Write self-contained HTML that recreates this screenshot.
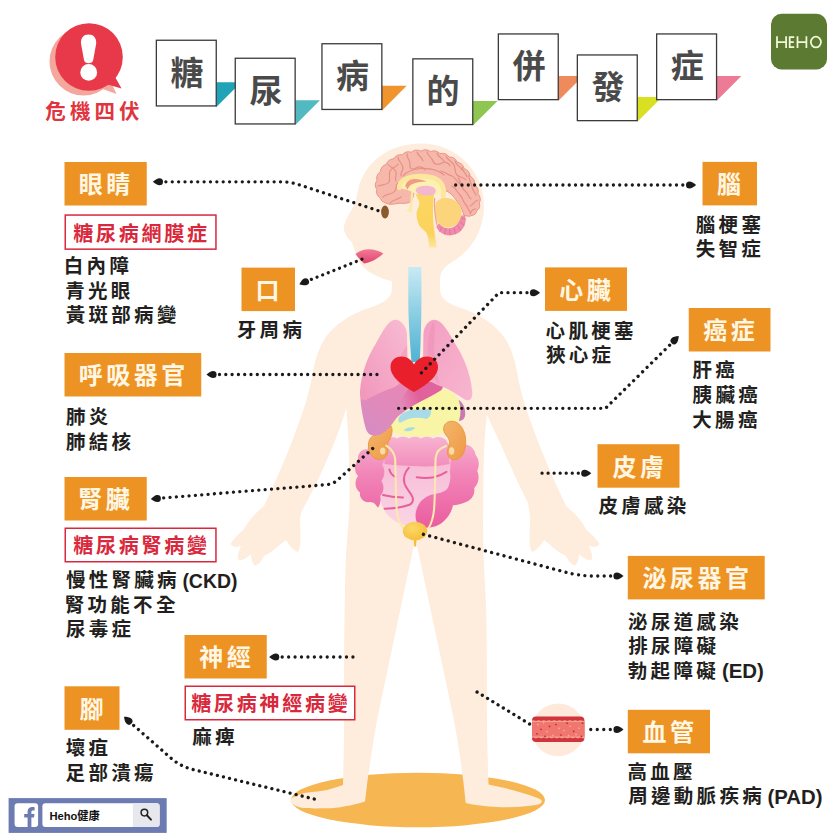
<!DOCTYPE html>
<html lang="zh-Hant"><head><meta charset="utf-8"><title>糖尿病的併發症</title>
<style>
html,body{margin:0;padding:0;background:#fff}
body{width:840px;height:840px;position:relative;overflow:hidden;font-family:"Liberation Sans",sans-serif}
svg{position:absolute;left:0;top:0;display:block}
svg text{font-family:"Liberation Sans","Noto Sans CJK TC",sans-serif;font-weight:700}
.t{position:absolute;white-space:nowrap;line-height:1.2;color:transparent;font-family:"Liberation Sans",sans-serif}
</style></head><body>
<svg width="840" height="840" viewBox="0 0 840 840">
<circle cx="83.5" cy="61.5" r="34" fill="#f4a79c"/>
<path fill="#f4a79c" d="M100,88 L116.5,94 L110,80 Z"/>
<circle cx="89" cy="57" r="33.8" fill="#e8394a"/>
<path fill="#e8394a" d="M106,84 L121.5,88.5 L114.5,76 Z"/>
<path fill="#fff" d="M88.6,34.6 C93.6,34.6 96.6,38 96.2,43.5 L93.2,60 C92.8,62.4 90.8,63.2 88.6,63.2 C86.4,63.2 84.4,62.4 84,60 L81,43.5 C80.6,38 83.6,34.6 88.6,34.6 Z"/>
<ellipse cx="88.7" cy="72.4" rx="8.4" ry="8.3" fill="#fff"/>
<path fill="#1ea4b6" d="M216.4,82.3 L241.1,82.3 L216.4,107.0 Z"/>
<path fill="#52b9c0" d="M295.3,100.3 L320.0,100.3 L295.3,125.0 Z"/>
<path fill="#f0952e" d="M382.0,85.8 L406.7,85.8 L382.0,110.5 Z"/>
<path fill="#8fc651" d="M472.9,100.9 L497.6,100.9 L472.9,125.6 Z"/>
<path fill="#ef8b5b" d="M558.4,76.0 L583.1,76.0 L558.4,100.7 Z"/>
<path fill="#d9e022" d="M637.4,97.0 L662.1,97.0 L637.4,121.7 Z"/>
<path fill="#ee7b95" d="M716.7,76.0 L741.4,76.0 L716.7,100.7 Z"/>
<rect x="156.35" y="40.25" width="59.90" height="65.70" fill="#fff" stroke="#3a3a3a" stroke-width="1.3"/>
<rect x="235.25" y="58.25" width="59.90" height="65.70" fill="#fff" stroke="#3a3a3a" stroke-width="1.3"/>
<rect x="321.95" y="43.75" width="59.90" height="65.70" fill="#fff" stroke="#3a3a3a" stroke-width="1.3"/>
<rect x="412.85" y="58.85" width="59.90" height="65.70" fill="#fff" stroke="#3a3a3a" stroke-width="1.3"/>
<rect x="498.35" y="33.95" width="59.90" height="65.70" fill="#fff" stroke="#3a3a3a" stroke-width="1.3"/>
<rect x="577.35" y="54.95" width="59.90" height="65.70" fill="#fff" stroke="#3a3a3a" stroke-width="1.3"/>
<rect x="656.65" y="33.95" width="59.90" height="65.70" fill="#fff" stroke="#3a3a3a" stroke-width="1.3"/>
<rect x="771" y="13.8" width="56" height="55.6" rx="10.5" fill="#5c7a31"/>
<g fill="none" stroke="#f1f9da" stroke-width="1.75" stroke-linecap="butt"><path d="M777,36.2 V48 M786.1,36.2 V48 M777,42 H786.1"/><path d="M789.7,36.2 V48 M789.7,37 H794.2 M789.7,42 H793.8 M789.7,47.2 H794.2"/><path d="M797.5,36.2 V48 M806.4,36.2 V48 M797.5,42 H806.4"/><ellipse cx="815.9" cy="42.1" rx="5.05" ry="5.4"/></g>
<!-- floor -->
<ellipse cx="418" cy="800" rx="127" ry="27.2" fill="#f6b652"/>
<!-- body silhouette -->
<path fill="#feecdc" d="M421,143.5
C456,143.5 484,171 484,206
C484,230 472,250 452,262
C444,267 440,272 440,280
L440,289
C440,298 447,303 458,307
C478,313 497,325 506,340
C512,350 515,361 517,372
C521,395 527,412 533,428
C540,448 551,474 566,506
C573,512 580,518 586,529
C591,534 597,539 599.5,544
C597,548 592,547 589,546
C591,551 593,556 591.5,560
C587,561 582,557 579,554
C579,558 578,563 575,565.5
C571,565 568,560 566,556
C560,553 553,548 548,543
L544,540
C541,545 537,550 532.5,552
C528,548 530,530 530,520
C530,514 529,508 528,503
C520,487 511,468 500.7,444.3
C496,434 491,424 486.8,414.3
C485,432 483.8,450 483.6,466
C483.2,490 483,510 483,530
C483.4,570 486,590 486.5,620
C487,660 487,700 487,720
C487,745 488,768 488.6,784.6
C498,786.5 518,791 531.4,795.7
C537,797.7 541.5,799 541.8,801
C542,803 540,804.4 537,804.8
C525,806.8 510,807.6 497,807
C486,806.5 474,805 465.7,803
C463,775 459,748 454,720
L417.2,546.5
L413.6,546.5
L377,720
C372,748 368,775 365,801.5
C352,805.5 338,808.2 327,808.3
C317,808.4 308,808.5 303,808
C297,807 291.5,804.5 290.6,801.5
C290,799 292,797.5 294.5,796.8
C299,794.5 303,793.3 306,792.8
C314,791.8 321,791 327,790
C333,788.5 338,786.5 343,785
C343.4,768 344,745 344,720
C343.8,690 344.2,620 345.5,565
C346.5,545 348,530 349,515
C349.5,505 349.8,495 349.6,487
C349.4,470 349,455 348.6,444
C348,430 347,418 346.4,408
C342.5,421 338,433 333.6,444.3
C328,458 322,471 316.4,483
C311,494 306,503 301.8,511
C300.6,514 300,517 300,520
C300,530 302,548 297.5,552
C293,550 289,545 286,540
L282,543
C277,548 270,553 264,556
C262,560 259,565 255,565.5
C252,563 251,558 251,554
C248,557 243,561 238.5,560
C237,556 239,551 241,546
C238,547 233,548 230.5,544
C233,539 239,534 244,529
C250,518 257,512 264,506
C279,474 290,448 297,428
C303,412 309,395 313,372
C315,361 318,350 324,340
C333,325 352,313 372,307
C383,303 392,298 392,289
L392,281
C383,279 373,275 366,269.5
C361,265 357,260 356,254
C355,250 353,246 351.5,241.5
C347,238 343,232 344,226
C346,218 352,210 355,204
C356,200 357,195 358,190
C364,163 388,143.5 421,143.5 Z"/>

<defs>
<linearGradient id="tr" x1="0" y1="0" x2="0" y2="1"><stop offset="0" stop-color="#c9eaf4"/><stop offset="0.45" stop-color="#8fd0e4"/><stop offset="1" stop-color="#4fb2d4"/></linearGradient>
<linearGradient id="lgL" x1="1" y1="0" x2="0" y2="1"><stop offset="0" stop-color="#f8bcd3"/><stop offset="1" stop-color="#f196bb"/></linearGradient>
<linearGradient id="lgR" x1="0" y1="0" x2="1" y2="1"><stop offset="0" stop-color="#f39ec1"/><stop offset="1" stop-color="#f7b6cf"/></linearGradient>
<linearGradient id="lv" x1="1" y1="0" x2="0" y2="1"><stop offset="0" stop-color="#ec86b3"/><stop offset="0.6" stop-color="#e08abb"/><stop offset="1" stop-color="#d48cc3"/></linearGradient>
<linearGradient id="col" gradientUnits="userSpaceOnUse" x1="0" y1="437" x2="0" y2="528"><stop offset="0" stop-color="#f7b3d0"/><stop offset="0.38" stop-color="#f287b9"/><stop offset="1" stop-color="#ea5c9f"/></linearGradient><linearGradient id="si" x1="0" y1="0" x2="0" y2="1"><stop offset="0" stop-color="#f7bcd6"/><stop offset="1" stop-color="#fad6e5"/></linearGradient><linearGradient id="lvb" gradientUnits="userSpaceOnUse" x1="400" y1="400" x2="440" y2="386"><stop offset="0" stop-color="#e0609b" stop-opacity="0"/><stop offset="0.45" stop-color="#e0609b"/><stop offset="1" stop-color="#e2649e"/></linearGradient>
<linearGradient id="kd" x1="0" y1="0" x2="1" y2="1"><stop offset="0" stop-color="#f4b56a"/><stop offset="1" stop-color="#ee9a45"/></linearGradient>
<radialGradient id="bl" cx="0.4" cy="0.35" r="0.7"><stop offset="0" stop-color="#fbd968"/><stop offset="1" stop-color="#f5bd38"/></radialGradient>
<linearGradient id="mo" x1="0" y1="0" x2="0" y2="1"><stop offset="0" stop-color="#f27a95"/><stop offset="1" stop-color="#e2446f"/></linearGradient>
</defs>
<!-- mouth -->
<path fill="url(#mo)" d="M355.5,254 C359,251 364,249.3 369,249.3 C374,249.3 379.5,251 383.3,253.6 C378,258.5 371,262.5 364,263.4 C361,260.5 358,257.5 355.5,254 Z"/>
<!-- eye -->
<ellipse cx="385" cy="212" rx="3.9" ry="6.4" fill="#8a5a2c"/>
<!-- trachea -->
<path fill="url(#tr)" d="M408.3,267 L421.4,267 L421.4,300 C421.4,325 420.5,345 419.8,362 L411.5,362 C410.5,345 408.3,325 408.3,300 Z"/>
<!-- stomach (pale yellow) + pancreas -->
<path fill="#f8f5a6" d="M418,400 C424,393 432,388.6 441,389 C451.6,389.6 459,396.6 461,407 C462.4,415 461,423.4 452,425.4 C447,427.4 446,432 440,434.4 C425,438 403,437 392,432 C389,428 391,422 396,418.6 C404,413.6 412,407.6 418,400 Z"/>
<!-- spleen -->
<path fill="#c97ab0" d="M458.6,399.8 C463,402.6 465.6,408.6 465.2,414.6 C464.8,419 462.2,421.2 459,420.8 C461.2,414 461,406.6 458.6,399.8 Z"/>
<!-- blue duct -->
<path fill="#a8dbe7" d="M398.5,418.5 C401,413.5 406,410.5 414,409.8 C420,409.2 426,409 430.5,409.6 C431.6,413 430.6,417 427,419 C421,417.4 415,417.2 410,418.6 C406,419.8 402.5,421.6 400,423 C398.6,422 398,420 398.5,418.5 Z"/>
<path fill="#a8dbe7" d="M403.6,430.6 C405.6,427.6 410,426.4 415.2,427.6 C413.6,430.4 408.6,432.6 403.6,430.6 Z"/>
<!-- small intestine bg -->
<path fill="url(#si)" d="M381,462 L451,462 L452,500 C447,512 436,524 420,527 C406,528 393,522 386,513 C382,507 380,500 380,496 Z"/>
<g fill="none" stroke="#e85f9c" stroke-width="2" stroke-linecap="round" stroke-linejoin="round">
<path d="M389.4,469.4 C390,473 392.5,475.5 395.5,477"/>
<path d="M408.7,467.8 C405,472 403,478 404.5,483.5 C406,489 411,492.5 412.7,497.5 C413.5,501 412,503.5 409.5,504.8 C402,507.5 392,508.5 384.6,508.8"/>
<path d="M416.7,477.2 C422,478 428,478.2 433.6,477.2 C438.5,476.2 443,474 446.5,471.8"/>
<path d="M383,495 C389,496.6 396,497.4 403,497.5"/>
</g>
<!-- large intestine -->
<path fill="url(#col)" d="M385.5,441 C388.5,436.6 394,436.4 397,438.6 C400,436 406,436 409,438.6 C412,436 418,436 421,438.6 C424,436 430,436 433,438.6 C436,436 442.5,436.4 446,440 L450,447 L449.5,464 C440,466.2 430,466.8 420,466.3 C408,465.8 396,465.6 384.5,464 L383,447 Z"/>
<path fill="url(#col)" d="M384.5,446 C379,443 371.5,444.4 368,449.4 C362,448.6 357,453.6 358,460 C354,464 354,472 358,476 C354,481 355,489 360,492.4 C359,498 364,503 370,502 C374,502 376,505 378,507.8 C380.4,504.4 381.2,500 380.2,496 C384.4,492 384.4,485 381.4,481 C385.2,476 385.2,469 382.2,465 C385.4,460 386.2,452 384.5,446 Z"/>
<path fill="url(#col)" d="M448.5,446 C452,443.4 458,442.6 463,444.6 C469.4,443.8 475,448.8 475.6,455 C479.2,459 479.7,466 477.2,471 C479.8,476 478.8,484 474.2,488 C475.2,494 472,500 466,502 C462,504 457,505.2 453,505.2 L447,490 C450,484 451,478 450,472 C451,464 450.4,455 448.5,446 Z"/>
<path fill="url(#col)" d="M453,505 C452,511 448.5,517 443.5,521.4 C437,527 427,529.4 421,526.4 C415,523.4 414.4,515 417,508 C420,500 427,495 435,494 C441,493 446,491 448,488 C452,492 454,499 453,505 Z"/>
<!-- kidneys -->
<path fill="url(#kd)" stroke="#e8963f" stroke-width="0.9" d="M391.4,426.4 C393,431 391.6,436.6 389,440.6 C386.6,444.4 388.2,448.6 387.8,452.6 C387,458 381,461 376,458.8 C370,456.4 367,448.4 369,441.2 C370.6,436 376,433.6 381,430.6 C385,428.4 388.6,426.4 391.4,426.4 Z"/>
<ellipse cx="382.7" cy="451" rx="2.7" ry="3.6" fill="#fde1b4" opacity="0.9"/>
<path fill="url(#kd)" stroke="#e8963f" stroke-width="0.9" d="M450.2,421.4 C457.6,420.2 464,427.6 465.4,437 C466.8,447 464,456.6 457.4,459.2 C452,461.2 446.8,457.2 447.4,451.6 C447.8,447 450.6,444 449.2,440 C447.8,436 443.6,434 443.6,429 C443.6,424.6 446.8,421.8 450.2,421.4 Z"/>
<ellipse cx="451.6" cy="451" rx="2.7" ry="3.8" fill="#fde1b4" opacity="0.9"/>
<!-- ureters -->
<g fill="none" stroke="#fbe8ae" stroke-width="2.1" stroke-linecap="round">
<path d="M386.4,445.6 C391,448.6 394.6,453 395.2,459.4 C395.8,478 395.6,500 397,513 C398.2,520 401,526 405,529.6"/>
<path d="M446.2,446 C440.6,447.6 436.2,451.6 435.6,458 C435,476 435.2,496 434,510 C433.2,517.6 431.4,523.6 428.6,528"/>
</g>
<!-- liver -->
<path fill="url(#lv)" d="M361,392 C366,386 376,384 386,384 L414,382 C424,382 434,381 441.5,382.6 C443.8,384.6 443.2,388.6 440.6,390.6 C432,396 422,400.5 415,404.5 C407,409.5 400,414.5 396.5,418 C393,422.5 391,426 388.5,428.5 C384,433 379,436 373.5,435.6 C369,435.2 366.5,431.5 365.5,427.5 C363.5,420 361,408 360.6,400 C360.5,397 360.5,394 361,392 Z"/>
<path fill="url(#lvb)" d="M406,386 L414,382 C424,382 434,381 441.5,382.6 C443.8,384.6 443.2,388.6 440.6,390.6 C432,396 423,400 415.5,404.2 C410,407.4 404,411 400,414 C398,408 400,398 408,390 Z"/>
<!-- left lung -->
<path fill="url(#lgL)" d="M395.4,319.8 C400.6,319.8 406.4,326 407,334 L407.6,368 C407,380 398,386.6 388,389.6 C380,392.4 372,397 366,400 C361.6,401.4 359.6,397.4 360,391.4 C361.4,372.4 368,355.6 376,343.4 C381,335 387.6,319.8 395.4,319.8 Z"/>
<path fill="#ee86b4" opacity="0.35" d="M407,345 C403,350 398,362 396,372 C395,378 397,384 400,385 C404.6,382 407.4,376 407.6,368 Z"/>
<!-- right lung -->
<path fill="url(#lgR)" d="M434.4,319.8 C429,319.8 424,326 423.4,334 L423,368 C424,379 433,384 443,387 C451,390 459.6,396 465.6,400 C470.6,401.4 472.8,397.4 472.2,391.4 C470.6,372.4 463,355.6 455,343.4 C450,335 442.6,319.8 434.4,319.8 Z"/>
<path fill="#ee86b4" opacity="0.4" d="M433,322 C429,330 427,345 428,358 C429,370 434,380 440,385 C436,372 433,352 434.5,336 C435,330 435,325 433,322 Z"/>
<!-- bladder -->
<path fill="#f5bd38" d="M413.6,538 L416.6,538 L416,546 C415.7,547 414.6,547 414.3,546 Z"/>
<ellipse cx="415" cy="531" rx="12.2" ry="9.3" fill="url(#bl)"/>
<!-- heart -->
<path fill="#e91f2b" d="M414,392 C405,387 390.5,378 390.5,367 C390.5,360.5 395.5,356.5 401.5,356.5 C407,356.5 411.5,360 414,364.5 C416.5,360 421.5,356.5 427,356.5 C433,356.5 438,360.5 438,367 C438,378 423,387 414,392 Z"/>

<path fill="#f6b8aa" stroke="#ea968a" stroke-width="1" stroke-linejoin="round" d="M399,203.2 Q390.7,204.8 388.5,204 Q381.3,202.1 380.5,198.5 Q375.4,194.3 376.8,189.5 Q373.6,184.7 377,180.5 Q375.6,175.1 380.5,171.5 Q380.5,166.4 386.5,164.2 Q387.6,159.5 394,158.7 Q396.1,154.2 402.5,154.7 Q405.4,150.6 411.5,152.2 Q415.3,148.5 421,151.2 Q425.6,148.1 430.5,151.6 Q435.9,149.4 440,153.6 Q445.9,152.3 449,157 Q455.1,156.9 457,162 Q463.1,163.3 464,168.5 Q470.0,170.9 470,176 Q475.5,179.5 474.5,184.5 Q479.5,188.9 478,193.5 Q481.9,198.8 479.2,203 Q481.0,208.1 476.5,211 Q476.4,214.9 470.5,215.8 Q469.9,217.2 463.8,215 C462,208 457,200 451,194 C447,190.5 443,189 438,189 L414,192 C413.5,197 412,201 409,202.5 C406,203.6 402,203.4 399,203.2 Z"/>
<g fill="none" stroke="#e78f85" stroke-width="1.15" stroke-linecap="round"><path d="M378,186 C383,184 386,186 389,182 C391,178 388,175 390,171 C392,167 396,168 398,164"/><path d="M383,197 C387,193 392,195 395,191 C397,188 395,185 398,183"/><path d="M390,203 C393,199 398,200 401,197"/><path d="M388,164.5 C391,168 395,168 396,172 C397,176 394,178 396,181"/><path d="M398,157 C398,162 403,163 403,168 C403,171 400,173 401,176"/><path d="M407,153.5 C406,158 411,160 410,165 C409,169 413,170 416,168 C419,166 423,167 425,170"/><path d="M417,152 C418,156 422,157 423,161"/><path d="M427,151.5 C427,156 432,157 433,161 C434,165 439,165 442,163 C445,161 449,163 450,166"/><path d="M437,153 C438,157 442,158 444,161"/><path d="M446,156 C447,160 452,161 454,165 C456,169 454,172 457,175 C460,178 464,177 466,180"/><path d="M455,161 C456,165 460,166 462,170"/><path d="M462,167 C462,171 466,173 467,177"/><path d="M441,171 C445,172 448,175 452,176 C455,177 456,181 459,183 C462,185 462,189 465,191 C468,193 468,197 471,199"/><path d="M469,175 C468,180 472,183 472,187 C472,190 475,192 476,195"/><path d="M452,186 C456,188 457,192 460,195 C463,198 463,202 466,205 C468,207 468,211 471,213"/><path d="M478,200 C474,201 473,205 470,206"/><path d="M476,209 C473,209 471,211 470,214"/><path d="M458,178 C461,181 460,185 463,187"/><path d="M403,176 C407,171 414,169 421,168.5 C430,168 438,170 444,175"/></g>
<path fill="#fcf0b4" d="M399,188 C400,180 407,175.5 418,174.5 C430,173.5 440,177 444,184 C446,188 446.5,193 445,197 L440,195 L414,193 L408,190 Z"/>
<path fill="none" stroke="#fbe89c" stroke-width="4.6" stroke-linecap="round" d="M399.2,187.8 C399.5,181 406,177.2 417,176.3 C428,175.4 438,178 441.5,184 C443.5,187.5 444,192 443.2,196.5"/>
<path fill="#f19c82" d="M405.2,186 C406.5,181.5 410,179.2 414,179 C418.5,178.8 423,179.8 426.5,181.6 C421,181.6 415,182.6 411.5,184.6 C409.5,185.8 408.5,187.6 407.6,189.4 Z"/>
<path fill="none" stroke="#fbe9a2" stroke-width="2.2" stroke-linecap="round" d="M412.3,192.5 C411.6,198 411.6,203 410.6,208"/>
<path fill="#fbeca8" d="M409.5,206.5 L411.3,209 L413.6,210 L411.2,211 L410.4,213.4 L408.8,211.2 L406.2,211 L408,209.2 Z"/>
<defs><linearGradient id="bs" x1="0" y1="0" x2="0" y2="1"><stop offset="0" stop-color="#fbd660"/><stop offset="0.75" stop-color="#fbd35c"/><stop offset="1" stop-color="#fbe7a4"/></linearGradient></defs>
<path fill="url(#bs)" d="M415.5,194 L434,194 C433.2,200 432.8,208 433,216 C433.2,222 434,228 434.6,233 C435.4,238 436.2,243 436.6,247.5 L429.2,247.5 C428.8,242 428.4,237 426.8,233.5 C424.5,229.5 420,228 418.6,224 C417.3,220 416.4,216.5 416.5,213.5 C416.8,209 420,206 419.2,202 C418.6,199 416.5,197 415.5,194 Z"/>
<path fill="#f3b8cd" d="M415.6,190 C416.5,187 421,185.8 426,185.8 C431,185.8 435.6,187.6 435.8,190.8 C436,193.6 433,195.4 428.5,195.6 C423,195.8 416,194.6 415.6,190 Z"/>
<path fill="#f08cab" d="M436.2,226.5 C439,233.5 446,236.4 453,235 C460,233.5 465,228 465.6,221 C465.8,219 465.6,217 465.2,215 L459,216 C460,222 456,227 450.5,228 C445,229 441,226.5 439.4,223 Z"/>
<g stroke="#e36f93" stroke-width="0.9" fill="none" stroke-linecap="round"><path d="M441.8,227 L439.8,231.4"/><path d="M445.6,228.8 L444.6,234"/><path d="M449.8,229.2 L450,235"/><path d="M454,228 L455.6,233.6"/><path d="M457.6,225.6 L460.6,230.2"/><path d="M460,222 L464,225"/><path d="M460.8,218 L465.2,219.4"/></g>
<path fill="#fbd47c" d="M435.6,204 C437,199.5 442,197.6 447.5,198 C455.5,198.6 461.6,204.5 461.6,212.5 C461.6,221 455.5,227.4 448,227.4 C442,227.4 437.6,224 436.4,218.6 C435.4,214 434.8,208.5 435.6,204 Z"/>
<path fill="none" stroke="#eea596" stroke-width="1.3" d="M434.6,198 C434.2,206 435,216 437,225"/>
<circle cx="558.2" cy="729.9" r="26.4" fill="#fee9da"/>
<rect x="532" y="716.6" width="52.4" height="25.3" rx="4" fill="#d0353d"/>
<path fill="#f6a293" d="M532.0,720.6 q1.31,-0.9 2.62,0 q1.31,0.9 2.62,0 q1.31,-0.9 2.62,0 q1.31,0.9 2.62,0 q1.31,-0.9 2.62,0 q1.31,0.9 2.62,0 q1.31,-0.9 2.62,0 q1.31,0.9 2.62,0 q1.31,-0.9 2.62,0 q1.31,0.9 2.62,0 q1.31,-0.9 2.62,0 q1.31,0.9 2.62,0 q1.31,-0.9 2.62,0 q1.31,0.9 2.62,0 q1.31,-0.9 2.62,0 q1.31,0.9 2.62,0 q1.31,-0.9 2.62,0 q1.31,0.9 2.62,0 q1.31,-0.9 2.62,0 q1.31,0.9 2.62,0 V737.9 q-1.31,0.9 -2.62,0 q-1.31,-0.9 -2.62,0 q-1.31,0.9 -2.62,0 q-1.31,-0.9 -2.62,0 q-1.31,0.9 -2.62,0 q-1.31,-0.9 -2.62,0 q-1.31,0.9 -2.62,0 q-1.31,-0.9 -2.62,0 q-1.31,0.9 -2.62,0 q-1.31,-0.9 -2.62,0 q-1.31,0.9 -2.62,0 q-1.31,-0.9 -2.62,0 q-1.31,0.9 -2.62,0 q-1.31,-0.9 -2.62,0 q-1.31,0.9 -2.62,0 q-1.31,-0.9 -2.62,0 q-1.31,0.9 -2.62,0 q-1.31,-0.9 -2.62,0 q-1.31,0.9 -2.62,0 q-1.31,-0.9 -2.62,0 Z"/>
<rect x="532" y="722" width="52.4" height="14.5" fill="#f0776f"/>
<circle cx="541" cy="729.3" r="0.85" fill="#c8242e"/><circle cx="567" cy="723.2" r="0.85" fill="#c8242e"/><circle cx="573.7" cy="731.4" r="0.85" fill="#c8242e"/><circle cx="561" cy="735" r="0.85" fill="#c8242e"/><circle cx="545" cy="736.4" r="0.85" fill="#c8242e"/><circle cx="549.5" cy="726.4" r="0.85" fill="#c8242e"/><circle cx="581.5" cy="736.4" r="0.85" fill="#c8242e"/><circle cx="582.6" cy="723.2" r="0.85" fill="#c8242e"/><circle cx="556" cy="724.6" r="0.85" fill="#c8242e"/><circle cx="537" cy="733.8" r="0.85" fill="#c8242e"/><circle cx="538" cy="724.6" r="0.8" fill="#f9b3a6"/><circle cx="547" cy="731.6" r="0.8" fill="#f9b3a6"/><circle cx="553" cy="735.2" r="0.8" fill="#f9b3a6"/><circle cx="559" cy="728.4" r="0.8" fill="#f9b3a6"/><circle cx="564" cy="730.6" r="0.8" fill="#f9b3a6"/><circle cx="570" cy="726.2" r="0.8" fill="#f9b3a6"/><circle cx="576" cy="734.6" r="0.8" fill="#f9b3a6"/><circle cx="579" cy="728.2" r="0.8" fill="#f9b3a6"/><circle cx="543.6" cy="722.8" r="0.8" fill="#f9b3a6"/><circle cx="568.6" cy="735.6" r="0.8" fill="#f9b3a6"/>
<rect x="64.5" y="162.0" width="82.25" height="43.5" fill="#ed9324"/>
<rect x="241.5" y="267.6" width="53.5" height="43.5" fill="#ed9324"/>
<rect x="64.5" y="353.0" width="136.75" height="43.5" fill="#ed9324"/>
<rect x="64.5" y="477.0" width="82.25" height="43.5" fill="#ed9324"/>
<rect x="184.5" y="635.0" width="82.25" height="43.5" fill="#ed9324"/>
<rect x="64.5" y="686.3" width="55.0" height="43.5" fill="#ed9324"/>
<rect x="702.5" y="161.9" width="54.5" height="43.5" fill="#ed9324"/>
<rect x="545.0" y="267.4" width="82.0" height="43.5" fill="#ed9324"/>
<rect x="688.75" y="308.0" width="81.75" height="43.5" fill="#ed9324"/>
<rect x="597.5" y="444.2" width="82.0" height="43.5" fill="#ed9324"/>
<rect x="627.8" y="555.9" width="136.9" height="43.5" fill="#ed9324"/>
<rect x="627.8" y="709.8" width="82.2" height="43.5" fill="#ed9324"/>
<rect x="65.25" y="215.05" width="150.7" height="34.1" fill="#fff" stroke="#d9283c" stroke-width="1.5"/>
<rect x="65.25" y="528.25" width="150.7" height="33.5" fill="#fff" stroke="#d9283c" stroke-width="1.5"/>
<rect x="185.25" y="686.25" width="169.5" height="33.5" fill="#fff" stroke="#d9283c" stroke-width="1.5"/>
<path transform="translate(152.9,181.8) rotate(0)" fill="#1a1a1a" d="M0,0 C2.6,-2.2 4.6,-3.5 6.6,-3.5 A3.5,3.5 0 0 1 6.6,3.5 C4.6,3.5 2.6,2.2 0,0 Z"/>
<path d="M165.9,181.8 L281,181.8 Q290,181.8 298,184.4 L378,210.6" fill="none" stroke="#1a1a1a" stroke-width="3.3" stroke-linecap="round" stroke-dasharray="0.01 6.357"/>
<path transform="translate(299.4,284.2) rotate(-21.8)" fill="#1a1a1a" d="M0,0 C2.6,-2.2 4.6,-3.5 6.6,-3.5 A3.5,3.5 0 0 1 6.6,3.5 C4.6,3.5 2.6,2.2 0,0 Z"/>
<path d="M311.4,279.4 L362,259.2" fill="none" stroke="#1a1a1a" stroke-width="3.3" stroke-linecap="round" stroke-dasharray="0.01 6.037"/>
<path transform="translate(206.5,374.5) rotate(0)" fill="#1a1a1a" d="M0,0 C2.6,-2.2 4.6,-3.5 6.6,-3.5 A3.5,3.5 0 0 1 6.6,3.5 C4.6,3.5 2.6,2.2 0,0 Z"/>
<path d="M219.5,374.5 L377,374.5" fill="none" stroke="#1a1a1a" stroke-width="3.3" stroke-linecap="round" stroke-dasharray="0.01 6.288"/>
<path transform="translate(150.8,499) rotate(-4.7)" fill="#1a1a1a" d="M0,0 C2.6,-2.2 4.6,-3.5 6.6,-3.5 A3.5,3.5 0 0 1 6.6,3.5 C4.6,3.5 2.6,2.2 0,0 Z"/>
<path d="M163.7,497.9 L327,484.6 Q333.5,484 338,479.6 L372.7,448.5" fill="none" stroke="#1a1a1a" stroke-width="3.3" stroke-linecap="round" stroke-dasharray="0.01 6.353"/>
<path transform="translate(269.2,657) rotate(0)" fill="#1a1a1a" d="M0,0 C2.6,-2.2 4.6,-3.5 6.6,-3.5 A3.5,3.5 0 0 1 6.6,3.5 C4.6,3.5 2.6,2.2 0,0 Z"/>
<path d="M282.2,657 L353,657" fill="none" stroke="#1a1a1a" stroke-width="3.3" stroke-linecap="round" stroke-dasharray="0.01 6.421"/>
<path transform="translate(124,716.8) rotate(41.5)" fill="#1a1a1a" d="M0,0 C2.6,-2.2 4.6,-3.5 6.6,-3.5 A3.5,3.5 0 0 1 6.6,3.5 C4.6,3.5 2.6,2.2 0,0 Z"/>
<path d="M133.7,725.4 L171,758.2 Q179.5,765.6 190.5,768.9 L314.3,799" fill="none" stroke="#1a1a1a" stroke-width="3.3" stroke-linecap="round" stroke-dasharray="0.01 6.222"/>
<path transform="translate(696.1,185) rotate(180)" fill="#1a1a1a" d="M0,0 C2.6,-2.2 4.6,-3.5 6.6,-3.5 A3.5,3.5 0 0 1 6.6,3.5 C4.6,3.5 2.6,2.2 0,0 Z"/>
<path d="M682.8,185 L455.6,185" fill="none" stroke="#1a1a1a" stroke-width="3.3" stroke-linecap="round" stroke-dasharray="0.01 6.299"/>
<path transform="translate(540,292.7) rotate(180)" fill="#1a1a1a" d="M0,0 C2.6,-2.2 4.6,-3.5 6.6,-3.5 A3.5,3.5 0 0 1 6.6,3.5 C4.6,3.5 2.6,2.2 0,0 Z"/>
<path d="M527,292.7 L499,292.7 L421.4,372.9" fill="none" stroke="#1a1a1a" stroke-width="3.3" stroke-linecap="round" stroke-dasharray="0.01 6.333"/>
<path transform="translate(678.75,336) rotate(135)" fill="#1a1a1a" d="M0,0 C2.6,-2.2 4.6,-3.5 6.6,-3.5 A3.5,3.5 0 0 1 6.6,3.5 C4.6,3.5 2.6,2.2 0,0 Z"/>
<path d="M669.6,345.2 L605.5,408.3 L398.6,408.3" fill="none" stroke="#1a1a1a" stroke-width="3.3" stroke-linecap="round" stroke-dasharray="0.01 6.305"/>
<path transform="translate(591.25,473.2) rotate(180)" fill="#1a1a1a" d="M0,0 C2.6,-2.2 4.6,-3.5 6.6,-3.5 A3.5,3.5 0 0 1 6.6,3.5 C4.6,3.5 2.6,2.2 0,0 Z"/>
<path d="M578.3,473.2 L542,473.2" fill="none" stroke="#1a1a1a" stroke-width="3.3" stroke-linecap="round" stroke-dasharray="0.01 6.030"/>
<path transform="translate(623.5,576) rotate(180)" fill="#1a1a1a" d="M0,0 C2.6,-2.2 4.6,-3.5 6.6,-3.5 A3.5,3.5 0 0 1 6.6,3.5 C4.6,3.5 2.6,2.2 0,0 Z"/>
<path d="M610.6,576 L592,576 Q578,575.6 566,572.3 L423.4,534.3" fill="none" stroke="#1a1a1a" stroke-width="3.3" stroke-linecap="round" stroke-dasharray="0.01 6.405"/>
<path transform="translate(623.5,729.5) rotate(180)" fill="#1a1a1a" d="M0,0 C2.6,-2.2 4.6,-3.5 6.6,-3.5 A3.5,3.5 0 0 1 6.6,3.5 C4.6,3.5 2.6,2.2 0,0 Z"/>
<path d="M610.3,729.5 L590.7,729.5" fill="none" stroke="#1a1a1a" stroke-width="3.3" stroke-linecap="round" stroke-dasharray="0.01 6.503"/>
<path d="M529.6,724 L477,692" fill="none" stroke="#1a1a1a" stroke-width="3.3" stroke-linecap="round" stroke-dasharray="0.01 6.141"/>
<rect x="8.6" y="798.1" width="158.1" height="34.8" fill="#6c7cb2"/>
<rect x="14.6" y="803.3" width="23.5" height="23.6" rx="3" fill="#fff"/>
<path fill="#6c7cb2" d="M27.6,826.9 V817.6 H24.2 V814 H27.6 V811.6 C27.6,808.6 29.5,807 32.2,807 C33.3,807 34.1,807.1 34.6,807.2 V810.4 H32.9 C31.7,810.4 31.4,811 31.4,811.9 V814 H34.5 L34,817.6 H31.4 V826.9 Z"/>
<rect x="42.4" y="803.3" width="117.2" height="23.6" rx="3" fill="#fff"/>
<path fill="#e7e8ee" d="M132.9,803.3 H156.6 a3,3 0 0 1 3,3 V823.9 a3,3 0 0 1 -3,3 H132.9 Z"/>
<circle cx="144.4" cy="812.6" r="3.3" fill="none" stroke="#222" stroke-width="1.5"/><path d="M146.9,815.3 L151,819.6" stroke="#222" stroke-width="2" stroke-linecap="round"/>
<text x="45.3" y="119.19" font-size="20.5" letter-spacing="4.1" fill="#e0353f">危機四伏</text>
<text x="170.6" y="84.54" font-size="33" fill="#4a4a4a">糖</text>
<text x="249.5" y="102.54" font-size="33" fill="#4a4a4a">尿</text>
<text x="336.1" y="88.04" font-size="33" fill="#4a4a4a">病</text>
<text x="426.6" y="103.14" font-size="33" fill="#4a4a4a">的</text>
<text x="512.6" y="78.24" font-size="33" fill="#4a4a4a">併</text>
<text x="591.4" y="99.24" font-size="33" fill="#4a4a4a">發</text>
<text x="670.8" y="78.24" font-size="33" fill="#4a4a4a">症</text>
<g font-size="24" letter-spacing="3.5" fill="#fff7e3">
<text x="78.8" y="193.37">眼睛</text>
<text x="255.5" y="298.97">口</text>
<text x="78.8" y="384.37">呼吸器官</text>
<text x="78.3" y="508.37">腎臟</text>
<text x="199.3" y="666.37">神經</text>
<text x="79.8" y="717.67">腳</text>
<text x="717.1" y="193.27">腦</text>
<text x="559.2" y="298.77">心臟</text>
<text x="703.2" y="339.37">癌症</text>
<text x="612.4" y="475.57">皮膚</text>
<text x="642.6" y="587.27">泌尿器官</text>
<text x="642.5" y="741.17">血管</text>
</g>
<g font-size="20" letter-spacing="2.75" fill="#d9283c">
<text x="73.2" y="240.5">糖尿病網膜症</text>
<text x="73.2" y="553.4">糖尿病腎病變</text>
<text x="191.2" y="711.4">糖尿病神經病變</text>
</g>
<g font-size="19.5" letter-spacing="3.3" fill="#231f20">
<text x="63.8" y="273.01">白內障</text>
<text x="65.2" y="297.66">青光眼</text>
<text x="65.7" y="322.16">黃斑部病變</text>
<text x="65.9" y="424.41">肺炎</text>
<text x="65.9" y="449.16">肺結核</text>
<text x="65.9" y="587.41">慢性腎臟病</text>
<text x="64.7" y="612.01">腎功能不全</text>
<text x="65.9" y="636.41">尿毒症</text>
<text x="65.8" y="755.41">壞疽</text>
<text x="65.6" y="780.41">足部潰瘍</text>
<text x="236.8" y="337.41">牙周病</text>
<text x="192.2" y="744.16">麻痺</text>
<text x="695.8" y="232.41">腦梗塞</text>
<text x="695.7" y="256.16">失智症</text>
<text x="545.6" y="337.81">心肌梗塞</text>
<text x="545.9" y="362.01">狹心症</text>
<text x="692.5" y="377.01">肝癌</text>
<text x="692.6" y="401.81">胰臟癌</text>
<text x="692.3" y="427.01">大腸癌</text>
<text x="598.4" y="512.66">皮膚感染</text>
<text x="628.1" y="628.61">泌尿道感染</text>
<text x="628.2" y="653.21">排尿障礙</text>
<text x="627.8" y="677.91">勃起障礙</text>
<text x="627.5" y="778.91">高血壓</text>
<text x="628.2" y="803.41">周邊動脈疾病</text>
</g>
<text x="182.4" y="587.81" font-size="20" fill="#231f20" textLength="55" lengthAdjust="spacingAndGlyphs">(CKD)</text>
<text x="721.9" y="678.31" font-size="20" fill="#231f20" textLength="42" lengthAdjust="spacingAndGlyphs">(ED)</text>
<text x="767.5" y="803.81" font-size="20" fill="#231f20" textLength="55" lengthAdjust="spacingAndGlyphs">(PAD)</text>
<text x="49.4" y="820.46" font-size="11.2" fill="#111">Heho健康</text>
</svg>
<div class="t" style="left:45.7px;top:99.1px;font-size:20.5px;letter-spacing:4.1px;font-weight:700">危機四伏</div>
<div class="t" style="left:171.3px;top:52.2px;font-size:33px;letter-spacing:0px;font-weight:700">糖</div>
<div class="t" style="left:250.2px;top:70.2px;font-size:33px;letter-spacing:0px;font-weight:700">尿</div>
<div class="t" style="left:337.0px;top:55.7px;font-size:33px;letter-spacing:0px;font-weight:700">病</div>
<div class="t" style="left:429.0px;top:70.8px;font-size:33px;letter-spacing:0px;font-weight:700">的</div>
<div class="t" style="left:513.0px;top:45.9px;font-size:33px;letter-spacing:0px;font-weight:700">併</div>
<div class="t" style="left:592.1px;top:66.9px;font-size:33px;letter-spacing:0px;font-weight:700">發</div>
<div class="t" style="left:671.6px;top:45.9px;font-size:33px;letter-spacing:0px;font-weight:700">症</div>
<div class="t" style="left:80.3px;top:169.8px;font-size:24px;letter-spacing:2.8px;font-weight:700">眼睛</div>
<div class="t" style="left:258.1px;top:275.5px;font-size:24px;letter-spacing:2.8px;font-weight:700">口</div>
<div class="t" style="left:80.4px;top:360.9px;font-size:24px;letter-spacing:2.8px;font-weight:700">呼吸器官</div>
<div class="t" style="left:80.2px;top:484.9px;font-size:24px;letter-spacing:2.8px;font-weight:700">腎臟</div>
<div class="t" style="left:199.7px;top:642.9px;font-size:24px;letter-spacing:2.8px;font-weight:700">神經</div>
<div class="t" style="left:80.3px;top:694.1px;font-size:24px;letter-spacing:2.8px;font-weight:700">腳</div>
<div class="t" style="left:717.7px;top:169.8px;font-size:24px;letter-spacing:2.8px;font-weight:700">腦</div>
<div class="t" style="left:560.1px;top:275.2px;font-size:24px;letter-spacing:2.8px;font-weight:700">心臟</div>
<div class="t" style="left:703.7px;top:315.9px;font-size:24px;letter-spacing:2.8px;font-weight:700">癌症</div>
<div class="t" style="left:612.8px;top:452.1px;font-size:24px;letter-spacing:2.8px;font-weight:700">皮膚</div>
<div class="t" style="left:643.3px;top:563.8px;font-size:24px;letter-spacing:2.8px;font-weight:700">泌尿器官</div>
<div class="t" style="left:643.2px;top:717.6px;font-size:24px;letter-spacing:2.8px;font-weight:700">血管</div>
<div class="t" style="left:73.6px;top:220.9px;font-size:20px;letter-spacing:2.75px;font-weight:700">糖尿病網膜症</div>
<div class="t" style="left:73.7px;top:533.8px;font-size:20px;letter-spacing:2.75px;font-weight:700">糖尿病腎病變</div>
<div class="t" style="left:191.7px;top:691.8px;font-size:20px;letter-spacing:2.75px;font-weight:700">糖尿病神經病變</div>
<div class="t" style="left:66.2px;top:253.9px;font-size:19.5px;letter-spacing:3.3px;font-weight:700">白內障</div>
<div class="t" style="left:66.2px;top:278.6px;font-size:19.5px;letter-spacing:3.3px;font-weight:700">青光眼</div>
<div class="t" style="left:66.2px;top:303.1px;font-size:19.5px;letter-spacing:3.3px;font-weight:700">黃斑部病變</div>
<div class="t" style="left:66.2px;top:405.3px;font-size:19.5px;letter-spacing:3.3px;font-weight:700">肺炎</div>
<div class="t" style="left:66.2px;top:430.1px;font-size:19.5px;letter-spacing:3.3px;font-weight:700">肺結核</div>
<div class="t" style="left:66.2px;top:568.3px;font-size:19.5px;letter-spacing:3.3px;font-weight:700">慢性腎臟病(CKD)</div>
<div class="t" style="left:66.2px;top:592.9px;font-size:19.5px;letter-spacing:3.3px;font-weight:700">腎功能不全</div>
<div class="t" style="left:66.2px;top:617.3px;font-size:19.5px;letter-spacing:3.3px;font-weight:700">尿毒症</div>
<div class="t" style="left:66.2px;top:736.3px;font-size:19.5px;letter-spacing:3.3px;font-weight:700">壞疽</div>
<div class="t" style="left:66.2px;top:761.3px;font-size:19.5px;letter-spacing:3.3px;font-weight:700">足部潰瘍</div>
<div class="t" style="left:237.5px;top:318.3px;font-size:19.5px;letter-spacing:3.3px;font-weight:700">牙周病</div>
<div class="t" style="left:192.5px;top:725.0px;font-size:19.5px;letter-spacing:3.3px;font-weight:700">麻痺</div>
<div class="t" style="left:696.2px;top:213.3px;font-size:19.5px;letter-spacing:3.3px;font-weight:700">腦梗塞</div>
<div class="t" style="left:696.2px;top:237.1px;font-size:19.5px;letter-spacing:3.3px;font-weight:700">失智症</div>
<div class="t" style="left:546.2px;top:318.7px;font-size:19.5px;letter-spacing:3.3px;font-weight:700">心肌梗塞</div>
<div class="t" style="left:546.2px;top:342.9px;font-size:19.5px;letter-spacing:3.3px;font-weight:700">狹心症</div>
<div class="t" style="left:693.0px;top:357.9px;font-size:19.5px;letter-spacing:3.3px;font-weight:700">肝癌</div>
<div class="t" style="left:693.0px;top:382.7px;font-size:19.5px;letter-spacing:3.3px;font-weight:700">胰臟癌</div>
<div class="t" style="left:693.0px;top:407.9px;font-size:19.5px;letter-spacing:3.3px;font-weight:700">大腸癌</div>
<div class="t" style="left:598.8px;top:493.6px;font-size:19.5px;letter-spacing:3.3px;font-weight:700">皮膚感染</div>
<div class="t" style="left:628.6px;top:609.5px;font-size:19.5px;letter-spacing:3.3px;font-weight:700">泌尿道感染</div>
<div class="t" style="left:628.6px;top:634.1px;font-size:19.5px;letter-spacing:3.3px;font-weight:700">排尿障礙</div>
<div class="t" style="left:628.6px;top:658.8px;font-size:19.5px;letter-spacing:3.3px;font-weight:700">勃起障礙(ED)</div>
<div class="t" style="left:628.6px;top:759.8px;font-size:19.5px;letter-spacing:3.3px;font-weight:700">高血壓</div>
<div class="t" style="left:628.6px;top:784.3px;font-size:19.5px;letter-spacing:3.3px;font-weight:700">周邊動脈疾病(PAD)</div>
<div class="t" style="left:50.4px;top:809.5px;font-size:11.2px;letter-spacing:-0.1px;font-weight:700">Heho健康</div>
<div class="t" style="left:776.0px;top:32.9px;font-size:16px;letter-spacing:0.5px;font-weight:500">HEHO</div>
</body></html>
